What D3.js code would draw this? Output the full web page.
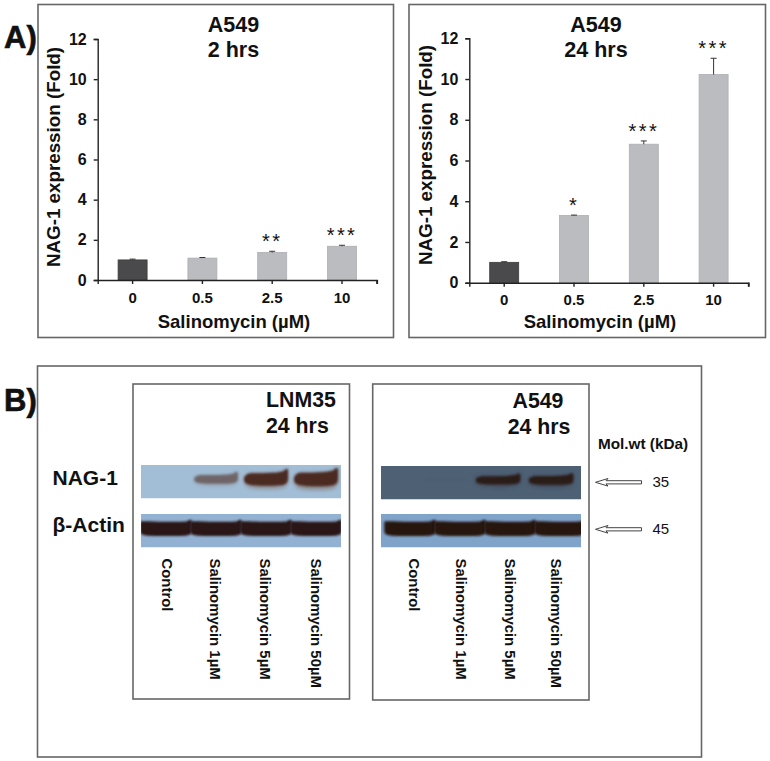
<!DOCTYPE html>
<html><head><meta charset="utf-8">
<script src="https://cdn.jsdelivr.net/npm/d3@7/dist/d3.min.js"></script>
<style>
html,body{margin:0;padding:0;background:#fff}
svg{display:block}
text{font-family:"Liberation Sans",Arial,sans-serif;font-weight:bold;fill:#111}
</style></head><body>
<svg id="c" width="770" height="761"></svg>
<script>
const doses = ["0","0.5","2.5","10"];
const yTicks = [0,2,4,6,8,10,12];
const values2h = [1.0,1.09,1.37,1.68];
const errors2h = [0.04,0.03,0.06,0.05];
const stars2h = ["","","**","***"];
const values24h = [1.0,3.3,6.8,10.22];
const errors24h = [0.03,0.02,0.16,0.8];
const stars24h = ["","*","***","***"];
const lanes = ["Control","Salinomycin 1µM","Salinomycin 5µM","Salinomycin 50µM"];
const nagLNM = [0,0.42,0.85,1];
const nagA549 = [0,0.02,0.85,0.95];
const actinLNM = [1,1,1,1];
const actinA549 = [1,1,1,1];
const molWeights = ["35","45"];
// band outline profile across one lane: position, upper edge, lower edge
const profileU = [0,0.02,0.15,0.4,0.65,0.88,0.98,1];
const nagTop = [0,-0.2,-0.42,-0.42,-0.45,-0.55,-0.75,-0.6];
const nagBot = [0,0.25,0.42,0.48,0.48,0.42,0.25,0];
const actinTop = [-0.42,-0.5,-0.5,-0.46,-0.46,-0.48,-0.6,-0.5];
const actinBot = [0.2,0.38,0.5,0.52,0.52,0.5,0.38,0.2];

const svg = d3.select("#c");
const frame = "#666";

const defs = svg.append("defs");
[["b1",0.9],["b2",2.2]].forEach(([id,s])=>{
  defs.append("filter").attr("id",id).attr("x","-20%").attr("y","-80%").attr("width","140%").attr("height","260%")
    .append("feGaussianBlur").attr("stdDeviation",s);
});

function box(x,y,w,h,sw){
  svg.append("rect").attr("x",x).attr("y",y).attr("width",w).attr("height",h)
    .attr("fill","none").attr("stroke",frame).attr("stroke-width",sw||1.6);
}

function barChart(o){
  box(o.fx,4.5,o.fw,333);
  const y = d3.scaleLinear().domain([0,12]).range([o.y0,o.y12]);
  const x = d3.scaleBand().domain(doses).range([o.x0,o.x1]);
  const g = svg.append("g");
  const bw = 29;
  const cx = d=>x(d)+x.bandwidth()/2;
  g.selectAll("rect.bar").data(doses).join("rect")
    .attr("x",d=>cx(d)-bw/2).attr("width",bw)
    .attr("y",(d,i)=>y(o.values[i])).attr("height",(d,i)=>o.y0-y(o.values[i]))
    .attr("fill",(d,i)=>i===0?"#4a4a4c":"#bbbcc0")
    .attr("stroke",(d,i)=>i===0?"#3c3c3c":"#adaeb2").attr("stroke-width",0.8);
  const err = g.selectAll("g.err").data(doses).join("g").attr("stroke","#333").attr("stroke-width",1);
  err.append("line").attr("x1",cx).attr("x2",cx)
    .attr("y1",(d,i)=>y(o.values[i])).attr("y2",(d,i)=>y(o.values[i]+o.errors[i]));
  err.append("line").attr("x1",d=>cx(d)-3).attr("x2",d=>cx(d)+3)
    .attr("y1",(d,i)=>y(o.values[i]+o.errors[i])).attr("y2",(d,i)=>y(o.values[i]+o.errors[i]));
  g.selectAll("text.star").data(doses).join("text").attr("class","star")
    .attr("x",cx).attr("y",(d,i)=>y(o.values[i]+o.errors[i])-o.starGap)
    .attr("text-anchor","middle").attr("font-size",20).attr("letter-spacing",2.4)
    .style("font-weight","normal").text((d,i)=>o.stars[i]);
  const ya = g.append("g").attr("transform",`translate(${o.x0},0)`)
    .call(d3.axisLeft(y).tickValues(yTicks).tickSize(4).tickPadding(7));
  const xa = g.append("g").attr("transform",`translate(0,${o.y0})`)
    .call(d3.axisBottom(x).tickSize(4).tickPadding(8));
  g.append("line").attr("x1",o.x1).attr("x2",o.x1).attr("y1",o.y0).attr("y2",o.y0+4).attr("stroke","#222").attr("stroke-width",1.4);
  [ya,xa].forEach(a=>{
    a.selectAll("path,line").attr("stroke","#222").attr("stroke-width",1.4);
    a.selectAll("text").attr("font-family","Liberation Sans").attr("fill","#111");
  });
  ya.selectAll("text").attr("font-size",16);
  xa.selectAll("text").attr("font-size",15);
  g.append("text").attr("x",o.tx).attr("y",32).attr("text-anchor","middle").attr("font-size",21.5).text("A549");
  g.append("text").attr("x",o.tx).attr("y",57).attr("text-anchor","middle").attr("font-size",21.5).text(o.sub);
  g.append("text").attr("x",o.lx).attr("y",328).attr("text-anchor","middle").attr("font-size",18.5).text("Salinomycin (µM)");
  g.append("text").attr("transform",`translate(${o.ylx},${o.yly}) rotate(-90)`).attr("text-anchor","middle").attr("font-size",18.8).text("NAG-1 expression (Fold)");
}

barChart({fx:38,fw:355.5,x0:97.7,x1:376.9,y0:280,y12:39,values:values2h,errors:errors2h,stars:stars2h,
  starGap:3,tx:233.5,sub:"2 hrs",lx:234,ylx:60,yly:157});
barChart({fx:409,fw:356.5,x0:469.3,x1:748.5,y0:282.7,y12:38.3,values:values24h,errors:errors24h,stars:stars24h,
  starGap:3,tx:596,sub:"24 hrs",lx:600,ylx:431.5,yly:155});

svg.append("text").attr("x",4).attr("y",48).attr("font-size",31).attr("stroke","#111").attr("stroke-width",0.6).text("A)");
svg.append("text").attr("x",4).attr("y",411).attr("font-size",31).attr("stroke","#111").attr("stroke-width",0.6).text("B)");

box(37.5,366,664,391);
box(133,384,216.5,315);
box(372.7,384,216.3,316);

function blot(o){
  const x = d3.scaleBand().domain(lanes).range([o.start,o.start+o.step*4]);
  const yc = d3.scaleLinear().domain([0,1]).range([o.y,o.y+33.5]);
  const gid = "clip"+o.id;
  defs.append("clipPath").attr("id",gid).append("rect").attr("x",o.x).attr("y",o.y).attr("width",200).attr("height",33.5);
  const g = svg.append("g").attr("clip-path",`url(#${gid})`);
  g.append("rect").attr("x",o.x).attr("y",o.y).attr("width",200).attr("height",33.5).attr("fill",o.bg);
  const shape = (lane,v,grow) => {
    const sx = d3.scaleLinear().domain([0,1]).range([x(lane)+x.bandwidth()*(0.5-o.wf/2), x(lane)+x.bandwidth()*(0.5+o.wf/2)]);
    const th = o.h*Math.sqrt(v);
    return d3.area().curve(d3.curveMonotoneX)
      .x((u)=>sx(u))
      .y0((u,i)=>yc(o.cy)+o.top[i]*th)
      .y1((u,i)=>yc(o.cy)+o.bot[i]*th*grow)(profileU);
  };
  if(o.halo){
    g.selectAll("path.h").data(lanes).join("path").attr("class","h").attr("d",(d,i)=>shape(d,Math.max(o.vals[i],0.001),1.5))
      .attr("fill",o.halo).attr("opacity",(d,i)=>o.vals[i]*0.9).attr("filter","url(#b2)");
  }
  g.selectAll("path.b").data(lanes).join("path").attr("class","b").attr("d",(d,i)=>shape(d,Math.max(o.vals[i],0.001),1))
    .attr("fill",o.band).attr("opacity",(d,i)=>Math.min(1,o.vals[i]*1.25)).attr("filter","url(#b1)");
}
blot({id:"a",x:141,y:465,start:141,step:50,bg:"#a2bed7",vals:nagLNM,cy:0.42,h:15,wf:0.88,band:"#4b2a22",halo:"#86807f",top:nagTop,bot:nagBot});
blot({id:"b",x:141,y:514,start:141,step:50,bg:"#93b2d3",vals:actinLNM,cy:0.43,h:14.5,wf:1.03,band:"#2a1717",top:actinTop,bot:actinBot});
blot({id:"c",x:381,y:466,start:365.5,step:53,bg:"#4d6074",vals:nagA549,cy:0.42,h:9.5,wf:0.84,band:"#2c1a16",halo:"#3d3f48",top:nagTop,bot:nagBot});
blot({id:"d",x:381,y:514,start:385,step:50,bg:"#7fa3c9",vals:actinA549,cy:0.43,h:14.5,wf:1.03,band:"#26130f",top:actinTop,bot:actinBot});

function laneLabels(xs){
  svg.append("g").selectAll("text").data(lanes).join("text")
    .attr("transform",(d,i)=>`translate(${xs[i]-5.5},558.5) rotate(90)`)
    .attr("font-size",14.9).text(d=>d);
}
laneLabels([167,215,265,316]);
laneLabels([414,461,510,556]);

svg.append("text").attr("x",266).attr("y",407).attr("font-size",21.3).text("LNM35");
svg.append("text").attr("x",266).attr("y",433).attr("font-size",21.3).text("24 hrs");
svg.append("text").attr("x",538).attr("y",407.5).attr("text-anchor","middle").attr("font-size",21.3).text("A549");
svg.append("text").attr("x",539).attr("y",434).attr("text-anchor","middle").attr("font-size",21.3).text("24 hrs");
svg.append("text").attr("x",598).attr("y",449).attr("font-size",15.3).text("Mol.wt (kDa)");
svg.append("text").attr("x",52.5).attr("y",485).attr("font-size",21).text("NAG-1");
svg.append("text").attr("x",52.5).attr("y",532).attr("font-size",21).text("β-Actin");

const arrowY = d3.scaleOrdinal().domain(molWeights).range([482.3,529.3]);
molWeights.forEach(m=>{
  const yy = arrowY(m);
  const path = d3.path();
  path.moveTo(641.5,yy-1.6);path.lineTo(606,yy-1.6);path.lineTo(608,yy-3.8);path.lineTo(595.5,yy);
  path.lineTo(608,yy+3.8);path.lineTo(606,yy+1.6);path.lineTo(641.5,yy+1.6);path.closePath();
  svg.append("path").attr("d",path.toString()).attr("fill","#fff").attr("stroke","#444").attr("stroke-width",1);
  svg.append("text").attr("x",652.5).attr("y",yy+5).attr("font-size",15).style("font-weight","normal").text(m);
});
</script></body></html>
